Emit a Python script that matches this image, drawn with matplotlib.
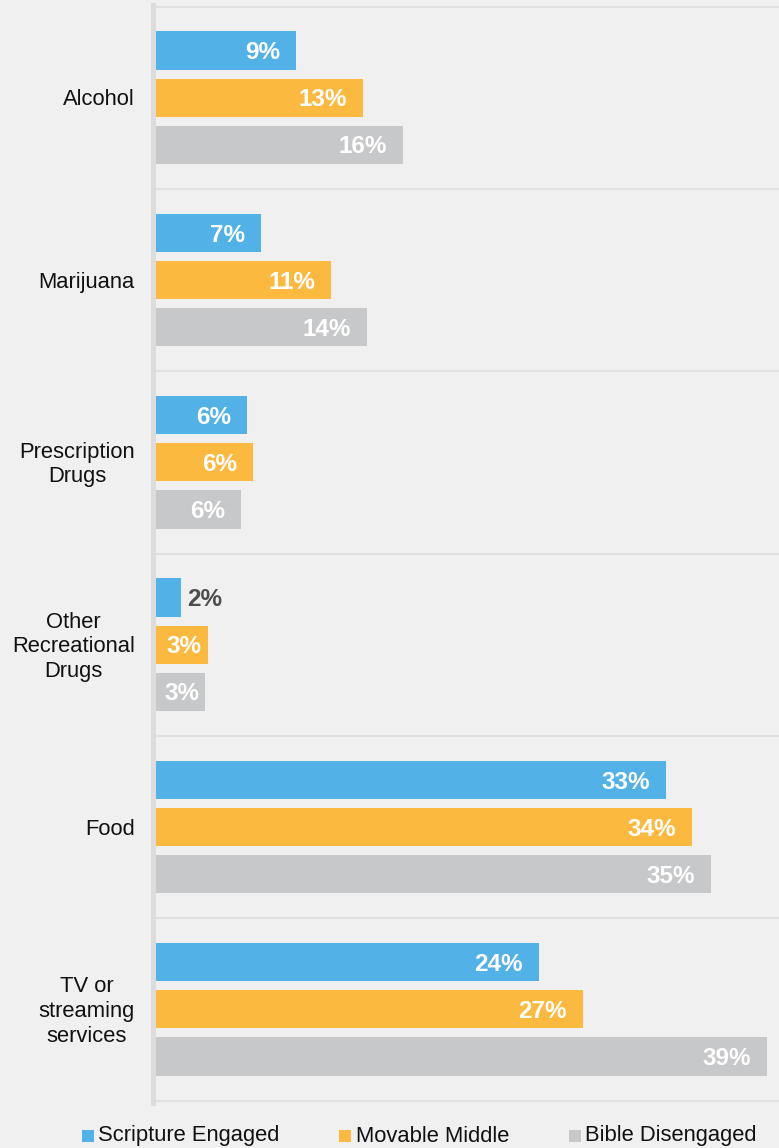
import matplotlib
matplotlib.use("Agg")
import matplotlib.pyplot as plt
from matplotlib.patches import Rectangle
import numpy as np

plt.rcParams['font.family'] = ['Liberation Sans', 'DejaVu Sans']

categories = ["Alcohol", "Marijuana", "Prescription\nDrugs",
              "Other\nRecreational\nDrugs", "Food", "TV or\nstreaming\nservices"]
series_names = ["Scripture Engaged", "Movable Middle", "Bible Disengaged"]
scripture_engaged = [9.0, 6.76, 5.85, 1.66, 32.63, 24.49]
movable_middle = [13.27, 11.23, 6.25, 3.38, 34.29, 27.31]
bible_disengaged = [15.83, 13.51, 5.51, 3.19, 35.48, 39.06]
scripture_labels = ["9%", "7%", "6%", "2%", "33%", "24%"]
movable_labels = ["13%", "11%", "6%", "3%", "34%", "27%"]
disengaged_labels = ["16%", "14%", "6%", "3%", "35%", "39%"]

colors = ["#52b1e6", "#fbb940", "#c7c8ca"]
bg = "#f0f0f0"

W, H = 779, 1148
fig = plt.figure(figsize=(W / 100, H / 100), dpi=100, facecolor=bg)
ax_left, ax_right = 155, 779
ax_top, ax_bottom = 6.5, 1100.5
ax = fig.add_axes([ax_left / W, 1 - ax_bottom / H, (ax_right - ax_left) / W,
                   (ax_bottom - ax_top) / H])
ax.set_facecolor(bg)
px_per_unit = 15.67
ax.set_xlim(0, (ax_right - ax_left) / px_per_unit)
n = len(categories)
ax.set_ylim(n, 0)
for s in ax.spines.values():
    s.set_visible(False)
ax.set_xticks([])
ax.set_yticks([])

offsets = [-0.258, 0.0, 0.258]
bar_h = 0.21
all_vals = [scripture_engaged, movable_middle, bible_disengaged]
all_labels = [scripture_labels, movable_labels, disengaged_labels]
centers = np.arange(n) + 0.5

# separators
for k in range(n + 1):
    ax.axhline(k, color="#e0e0e0", lw=1.6, zorder=1, clip_on=False)

for si in range(3):
    ys = centers + offsets[si]
    ax.barh(ys, all_vals[si], height=bar_h, color=colors[si], zorder=2)
    for y, v, lab in zip(ys, all_vals[si], all_labels[si]):
        if v < 2.5:
            ax.annotate(lab, (v, y), xytext=(4.5, -1.5), textcoords="offset points",
                        ha="left", va="center", fontsize=17.5, fontweight="bold",
                        color="#4d4d4d", zorder=3)
        elif v < 4.5:
            ax.annotate(lab, (v / 2, y), xytext=(1.5, -1.5), textcoords="offset points",
                        ha="center", va="center", fontsize=17.5, fontweight="bold",
                        color="white", zorder=3)
        else:
            ax.annotate(lab, (v, y), xytext=(-11.5, -1.5), textcoords="offset points",
                        ha="right", va="center", fontsize=17.5, fontweight="bold",
                        color="white", zorder=3)

for y, c in zip(centers, categories):
    ax.annotate(c, (0, y), xytext=(-14.5, -1.5), textcoords="offset points",
                ha="right", va="center", multialignment="center",
                fontsize=15.8, color="#111111", linespacing=1.23,
                annotation_clip=False)

# vertical axis line
fig.add_artist(plt.Line2D([152.5 / W, 152.5 / W], [1 - 5 / H, 1 - 1103 / H],
                          color="#dcdcdc", lw=3.6, transform=fig.transFigure))

# legend
leg_y = 1136
sq = [(82, 94), (339, 351), (569, 581)]
tx = [98, 356, 585]
for (x0, x1), t, col, name in zip(sq, tx, colors, series_names):
    fig.add_artist(Rectangle((x0 / W, 1 - (leg_y + 6) / H), (x1 - x0) / W, 12 / H,
                             transform=fig.transFigure, color=col, lw=0))
    fig.text(t / W, 1 - leg_y / H, name, ha="left", va="center",
             fontsize=15.8, color="#111111")

fig.savefig("out.png", dpi=100, facecolor=bg)
